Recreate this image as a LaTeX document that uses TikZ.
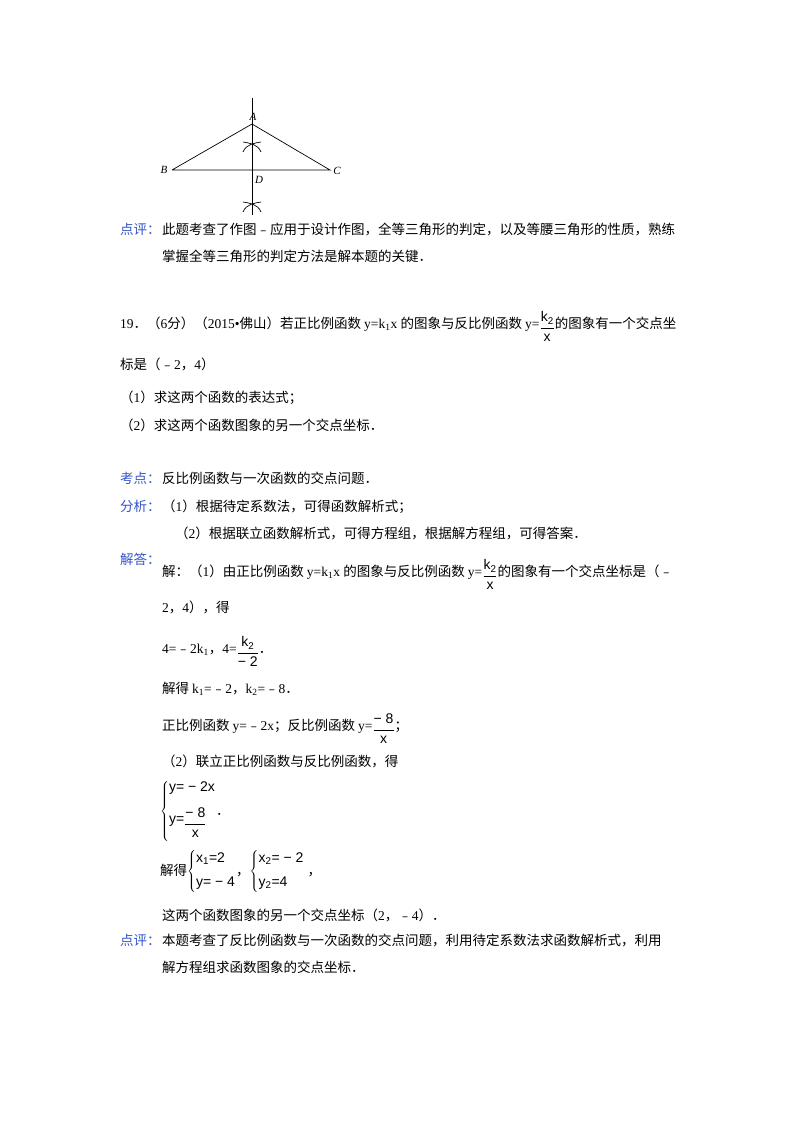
\documentclass[tikz,border=0pt]{standalone}
\usepackage{fontspec}
\setmainfont{Noto Sans CJK SC}
\newfontfamily\lt{Liberation Serif}
\newfontfamily\ls{Liberation Sans}
\newcommand{\fr}[2]{\raisebox{-0.6ex}{$\displaystyle\frac{\hbox{\ls\fontsize{14}{16}\selectfont\strut #1}}{\hbox{\ls\fontsize{14}{16}\selectfont\strut #2}}$}}
\definecolor{lab}{RGB}{52,84,200}
\begin{document}
\begin{tikzpicture}[x=1pt,y=-1pt,
 t/.style={anchor=base west,inner sep=0,font=\fontsize{13.5}{16}\selectfont},
 lb/.style={t,text=lab},
 ptl/.style={font=\fontsize{11}{12}\lt\itshape,inner sep=1pt},
 seg/.style={line width=0.7pt}]
\useasboundingbox (0,0) rectangle (800,1132);
% figure
\coordinate (A) at (252,124); \coordinate (B) at (172,170);
\coordinate (C) at (330,170); \coordinate (D) at (252,170);
\coordinate (top) at (252,98); \coordinate (bot) at (252,215);
\draw[seg] (B) -- (A) -- (C) -- (B);
\draw[seg] (top) -- (bot);
\foreach \yy in {146,206}{
 \draw[seg] (243,\yy+6) .. controls (246,\yy-2) and (255,\yy-3) .. (261,\yy-4);
 \draw[seg] (243,\yy-4) .. controls (249,\yy-3) and (258,\yy-2) .. (261,\yy+6);
}
\node[ptl] (la) at (253,117) {A};
\node[ptl] (lb) at (164,170) {B};
\node[ptl] (lc) at (337,171) {C};
\node[ptl] (ld) at (259,180) {D};
% text
\node[lb] (n1) at (120,234) {点评：};
\node[t] (n2) at (162,234) {此题考查了作图﹣应用于设计作图，全等三角形的判定，以及等腰三角形的性质，熟练};
\node[t] (n3) at (162,261) {掌握全等三角形的判定方法是解本题的关键．};
\node[t] (n4) at (120,328) {\lt 19\rm ．（\lt 6\rm 分）（\lt 2015•\rm 佛山）若正比例函数 \lt y=k\textsubscript{1}x \rm 的图象与反比例函数 \lt y=\fr{k\textsubscript{2}}{x}\rm 的图象有一个交点坐};
\node[t] (n5) at (120,369) {标是（﹣\lt 2\rm ，\lt 4\rm ）};
\node[t] (n6) at (120,402) {（\lt 1\rm ）求这两个函数的表达式；};
\node[t] (n7) at (120,430) {（\lt 2\rm ）求这两个函数图象的另一个交点坐标．};
\node[lb] (n8) at (120,483) {考点：};
\node[t] (n9) at (162,483) {反比例函数与一次函数的交点问题．};
\node[lb] (n10) at (120,511) {分析：};
\node[t] (n11) at (162,511) {（\lt 1\rm ）根据待定系数法，可得函数解析式；};
\node[t] (n12) at (175,538) {（\lt 2\rm ）根据联立函数解析式，可得方程组，根据解方程组，可得答案．};
\node[lb] (n13) at (120,564) {解答：};
\node[t] (n14) at (162,576) {解：（\lt 1\rm ）由正比例函数 \lt y=k\textsubscript{1}x \rm 的图象与反比例函数 \lt y=\fr{k\textsubscript{2}}{x}\rm 的图象有一个交点坐标是（﹣};
\node[t] (n15) at (162,612) {\lt 2\rm ，\lt 4\rm ），得};
\node[t] (n16) at (162,653) {\lt 4=\rm ﹣\lt 2k\textsubscript{1}\rm ，\lt 4=\fr{k\textsubscript{2}}{− 2}\rm ．};
\node[t] (n17) at (162,693) {解得 \lt k\textsubscript{1}=\rm ﹣\lt 2\rm ，\lt k\textsubscript{2}=\rm ﹣\lt 8\rm ．};
\node[t] (n18) at (162,730) {正比例函数 \lt y=\rm ﹣\lt 2x\rm ；反比例函数 \lt y=\fr{− 8}{x}\rm ；};
\node[t] (n19) at (162,766) {（\lt 2\rm ）联立正比例函数与反比例函数，得};
\node[t] (n20) at (160,815) {$\left\{\begin{array}{@{}l@{}}\hbox{\ls\fontsize{14}{16}\selectfont y= − 2x}\\[10pt]\hbox{\ls\fontsize{14}{16}\selectfont y=\fr{− 8}{x}}\end{array}\right.$\rm ．};
\node[t] (n21) at (160,875) {解得$\left\{\begin{array}{@{}l@{}}\hbox{\ls\fontsize{14}{16}\selectfont x\textsubscript{1}=2}\\[8pt]\hbox{\ls\fontsize{14}{16}\selectfont y= − 4}\end{array}\right.$\rm ，$\left\{\begin{array}{@{}l@{}}\hbox{\ls\fontsize{14}{16}\selectfont x\textsubscript{2}= − 2}\\[8pt]\hbox{\ls\fontsize{14}{16}\selectfont y\textsubscript{2}=4}\end{array}\right.$ \rm ，};
\node[t] (n22) at (162,920) {这两个函数图象的另一个交点坐标（\lt 2\rm ，﹣\lt 4\rm ）．};
\node[lb] (n23) at (120,945) {点评：};
\node[t] (n24) at (162,945) {本题考查了反比例函数与一次函数的交点问题，利用待定系数法求函数解析式，利用};
\node[t] (n25) at (162,972) {解方程组求函数图象的交点坐标．};
\end{tikzpicture}
\end{document}
